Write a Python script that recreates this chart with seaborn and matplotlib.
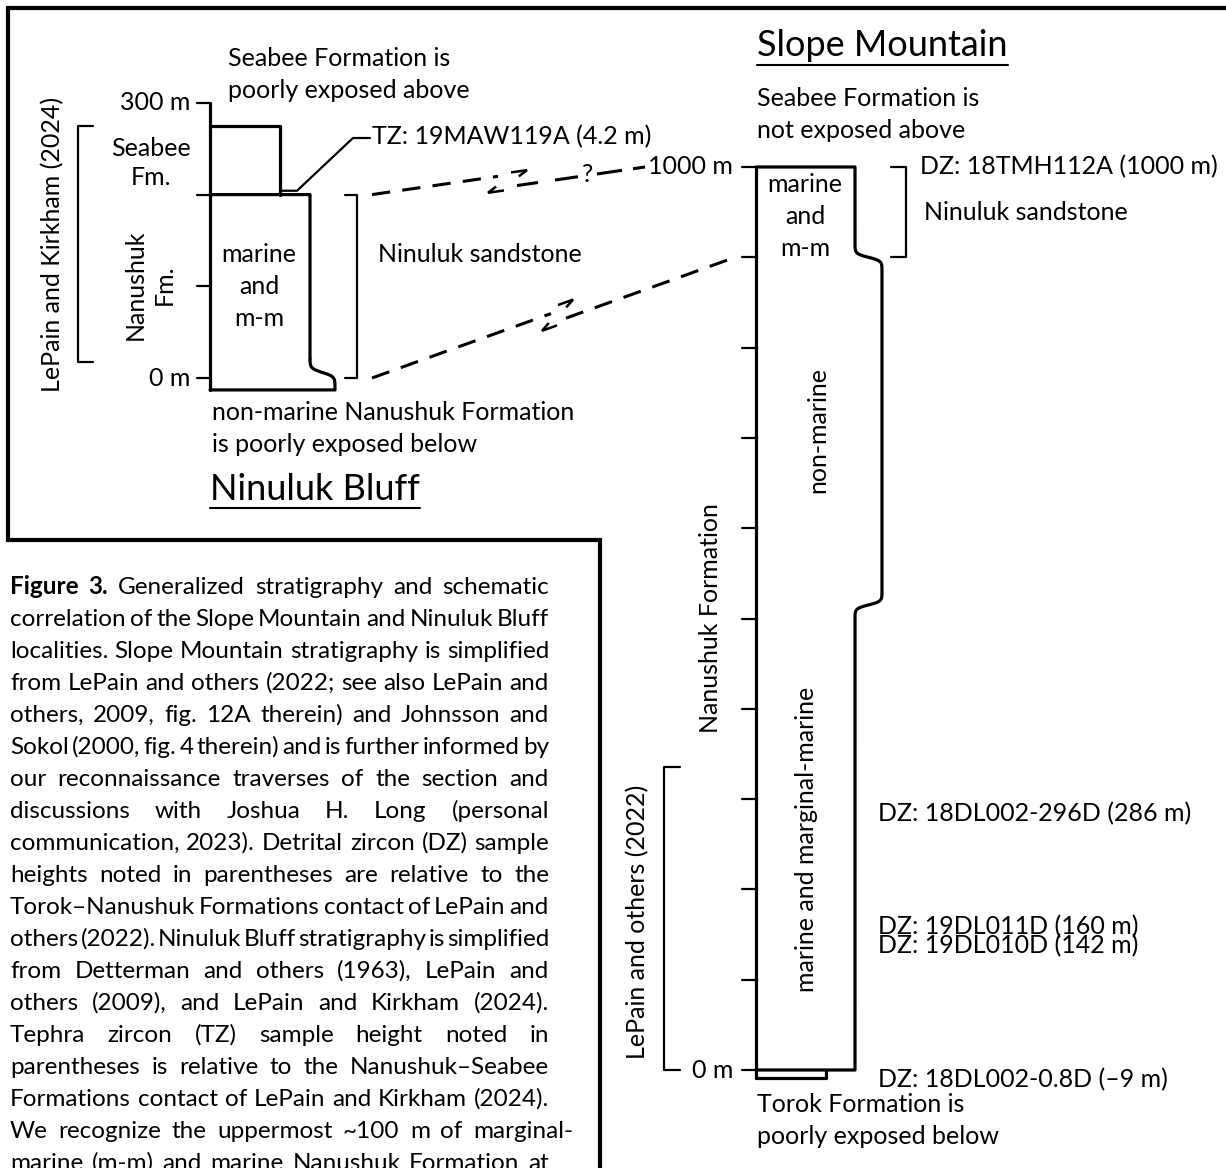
import numpy as np
import pandas as pd
import matplotlib
matplotlib.use("Agg")
import matplotlib.pyplot as plt
import seaborn as sns

# --- stratigraphic data (metres) ---
# Ninuluk Bluff
NB_TICKS = [0, 100, 200, 300]
NB_TICK_LABELS = {0: "0 m", 300: "300 m"}
NB_BASE = -13
NB_CONTACT = 200          # Nanushuk-Seabee contact
NB_SEABEE_TOP = 275
NB_FLARE = 6              # height of the coarse base
NB_TZ_NAME = "19MAW119A"
NB_TZ_HEIGHT = 4.2        # above the contact
NB_SANDSTONE = (0, 200)
NB_LEPAIN_2024 = (17, 275)

# Slope Mountain
SM_TICKS = list(range(0, 1001, 100))
SM_TICK_LABELS = {0: "0 m", 1000: "1000 m"}
SM_TOP = 1000
SM_TOROK_BASE = -9
SM_NONMARINE = (515, 900)
SM_SANDSTONE = (900, 1000)
SM_LEPAIN_2022 = (0, 335)
SM_DZ_TOP = ("18TMH112A", 1000)
SM_DZ_NAMES = ["18DL002-296D", "19DL011D", "19DL010D", "18DL002-0.8D"]
SM_DZ_HEIGHTS = [286, 160, 142, -9]

CAPTION = [
    "Figure 3. Generalized stratigraphy and schematic",
    "correlation of the Slope Mountain and Ninuluk Bluff",
    "localities. Slope Mountain stratigraphy is simplified",
    "from LePain and others (2022; see also LePain and",
    "others, 2009, fig. 12A therein) and Johnsson and",
    "Sokol (2000, fig. 4 therein) and is further informed by",
    "our reconnaissance traverses of the section and",
    "discussions with Joshua H. Long (personal",
    "communication, 2023). Detrital zircon (DZ) sample",
    "heights noted in parentheses are relative to the",
    "Torok\u2013Nanushuk Formations contact of LePain and",
    "others (2022). Ninuluk Bluff stratigraphy is simplified",
    "from Detterman and others (1963), LePain and",
    "others (2009), and LePain and Kirkham (2024).",
    "Tephra zircon (TZ) sample height noted in",
    "parentheses is relative to the Nanushuk\u2013Seabee",
    "Formations contact of LePain and Kirkham (2024).",
    "We recognize the uppermost ~100 m of marginal-",
    "marine (m-m) and marine Nanushuk Formation at",
]


def nb_y(m):
    return 378 - 0.917 * np.asarray(m, dtype=float)


def sm_y(m):
    return 1070 - 0.903 * np.asarray(m, dtype=float)


def s_step(yc, xa, xb, half=12, s=3.5, n=50):
    yy = np.linspace(yc - half, yc + half, n)
    xx = xa + (xb - xa) * (0.5 + 0.5 * np.tanh((yy - yc) / s))
    return list(xx), list(yy)


def path(ax, xs, ys, lw=2.3, **kw):
    df = pd.DataFrame({"x": xs, "y": ys})
    sns.lineplot(data=df, x="x", y="y", sort=False, estimator=None,
                 color="black", lw=lw, ax=ax, **kw)


def bracket(ax, x, y0, y1, tick):
    path(ax, [x + tick, x, x, x + tick], [y0, y0, y1, y1], lw=1.6)


def half_arrow(ax, tail, tip, side):
    (x0, y0), (x1, y1) = tail, tip
    d = np.array([x1 - x0, y1 - y0], float)
    d /= np.hypot(*d)
    p = np.array([-d[1], d[0]]) * side
    bx, by = np.array([x1, y1]) - d * 9 + p * 5
    ax.plot([x0, x1, bx], [y0, y1, by], color="black", lw=1.8,
            solid_capstyle="butt", solid_joinstyle="miter")


sns.set_theme(style="white")
plt.rcParams["font.family"] = ["Lato", "DejaVu Sans"]

W, H = 1226, 1168
fig = plt.figure(figsize=(W / 100, H / 100), dpi=100)
ax = fig.add_axes([0, 0, 1, 1])
ax.set_xlim(0, W)
ax.set_ylim(H, 0)
ax.set_axis_off()
renderer = fig.canvas.get_renderer()

FS = 18
TXT = dict(color="black", fontsize=FS)

# frame
ax.plot([W, 8, 8, 600, 600], [8, 8, 540, 540, H], color="black", lw=3,
        solid_joinstyle="miter")

# ---------------- Ninuluk Bluff ----------------
NB_X0, NB_SB_X1, NB_X1, NB_FX1 = 210, 280, 310, 335
path(ax, [NB_X0, NB_X0], [nb_y(300), nb_y(NB_BASE)])
for t in NB_TICKS:
    ax.plot([197, NB_X0], [nb_y(t)] * 2, color="black", lw=1.6)
for t, lab in NB_TICK_LABELS.items():
    ax.text(190, nb_y(t), lab, ha="right", va="center", **TXT)
path(ax, [NB_X0, NB_SB_X1, NB_SB_X1], [nb_y(NB_SEABEE_TOP)] * 2 + [nb_y(NB_CONTACT)])
fx, fy = s_step(float(nb_y(NB_FLARE)), NB_X1, NB_FX1, half=13, s=4)
path(ax, [NB_X0, NB_X1, NB_X1] + fx + [NB_FX1, NB_X0],
     [nb_y(NB_CONTACT)] * 2 + [fy[0]] + fy + [nb_y(NB_BASE)] * 2)

tz_y = float(nb_y(NB_CONTACT + NB_TZ_HEIGHT))
ax.plot([NB_SB_X1, 297, 353, 370], [tz_y, tz_y, 138, 138], color="black", lw=1.6)
ax.text(372, 137, f"TZ: {NB_TZ_NAME} ({NB_TZ_HEIGHT} m)", ha="left", va="center", **TXT)

bracket(ax, 357, nb_y(NB_SANDSTONE[1]), nb_y(NB_SANDSTONE[0]), -12)
ax.text(378, 255, "Ninuluk sandstone", ha="left", va="center", **TXT)
bracket(ax, 78, nb_y(NB_LEPAIN_2024[1]), nb_y(NB_LEPAIN_2024[0]), 15)
ax.text(53, float(nb_y(sum(NB_LEPAIN_2024) / 2)), "LePain and Kirkham (2024)",
        rotation=90, ha="center", va="center", **TXT)
ax.text(151, 163, "Seabee\nFm.", ha="center", va="center", linespacing=1.3, **TXT)
ax.text(150, 285, "Nanushuk\nFm.", rotation=90, ha="center", va="center",
        multialignment="center", linespacing=1.3, **TXT)
for i, w in enumerate(["marine", "and", "m-m"]):
    ax.text(259, 255 + 32 * i, w, ha="center", va="center", **TXT)
for i, w in enumerate(["Seabee Formation is", "poorly exposed above"]):
    ax.text(228, 58 + 32 * i, w, ha="left", va="center", **TXT)
for i, w in enumerate(["non-marine Nanushuk Formation", "is poorly exposed below"]):
    ax.text(212, 413 + 32 * i, w, ha="left", va="center", **TXT)


def title(x, y, s):
    t = ax.text(x, y, s, ha="left", va="center", color="black", fontsize=26)
    bb = t.get_window_extent(renderer)
    yb = H - bb.y0 + 2
    ax.plot([bb.x0, bb.x1], [yb, yb], color="black", lw=1.5)


title(210, 489, "Ninuluk Bluff")

# ---------------- Slope Mountain ----------------
SM_X0, SM_MX1, SM_NX1, SM_TX1 = 756, 855, 882, 826
path(ax, [SM_X0, SM_X0], [sm_y(SM_TOP), sm_y(SM_TOROK_BASE)])
for t in SM_TICKS:
    ax.plot([742, SM_X0], [sm_y(t)] * 2, color="black", lw=1.6)
for t, lab in SM_TICK_LABELS.items():
    ax.text(733, sm_y(t), lab, ha="right", va="center", **TXT)
ux, uy = s_step(float(sm_y(SM_NONMARINE[1])), SM_MX1, SM_NX1)
lx, ly = s_step(float(sm_y(SM_NONMARINE[0])), SM_NX1, SM_MX1)
path(ax, [SM_X0, SM_MX1] + ux + lx + [SM_MX1, SM_X0],
     [sm_y(SM_TOP)] * 2 + uy + ly + [sm_y(0)] * 2)
path(ax, [SM_X0, SM_TX1, SM_TX1], [sm_y(SM_TOROK_BASE)] * 2 + [sm_y(0)])

bracket(ax, 906, sm_y(SM_SANDSTONE[1]), sm_y(SM_SANDSTONE[0]), -15)
ax.text(924, 212, "Ninuluk sandstone", ha="left", va="center", **TXT)
ax.text(920, sm_y(SM_DZ_TOP[1]), f"DZ: {SM_DZ_TOP[0]} ({SM_DZ_TOP[1]} m)",
        ha="left", va="center", **TXT)
nudge = [0, -1, 2, 0]
for name, h, dn in zip(SM_DZ_NAMES, SM_DZ_HEIGHTS, nudge):
    hs = f"\u2013{abs(h)}" if h < 0 else f"{h}"
    ax.text(878, sm_y(h) + 2 + dn, f"DZ: {name} ({hs} m)", ha="left", va="center", **TXT)
bracket(ax, 664, sm_y(SM_LEPAIN_2022[1]), sm_y(SM_LEPAIN_2022[0]), 16)
ax.text(638, float(sm_y(SM_LEPAIN_2022[0]) + sm_y(SM_LEPAIN_2022[1])) / 2 + 3,
        "LePain and others (2022)", rotation=90, ha="center", va="center", **TXT)
ax.text(710, 618, "Nanushuk Formation", rotation=90, ha="center", va="center", **TXT)
ax.text(818, 430, "non-marine", rotation=90, ha="center", va="center", **TXT)
ax.text(806, 839, "marine and marginal-marine", rotation=90, ha="center", va="center", **TXT)
for i, w in enumerate(["marine", "and", "m-m"]):
    ax.text(805, 185 + 32 * i, w, ha="center", va="center", **TXT)
for i, w in enumerate(["Seabee Formation is", "not exposed above"]):
    ax.text(757, 98 + 32 * i, w, ha="left", va="center", **TXT)
for i, w in enumerate(["Torok Formation is", "poorly exposed below"]):
    ax.text(757, 1104 + 32 * i, w, ha="left", va="center", **TXT)
title(757, 46, "Slope Mountain")

# ---------------- correlation lines ----------------
DASH = dict(color="black", lw=2.2, dashes=(6, 4))


def corr(p0, p1, off, xb, gap=18):
    s = (p1[1] - p0[1] - off) / (p1[0] - p0[0])
    L = lambda x: p0[1] + s * (x - p0[0])
    ax.plot([p0[0], xb - gap / 2], [L(p0[0]), L(xb - gap / 2)], **DASH)
    return L, s


p0 = (372, float(nb_y(NB_CONTACT)))
p1 = (645, float(sm_y(SM_TOP)))
L, s = corr(p0, p1, 12, 507)
R = lambda x: L(x) + 12
for xa, xb in [(517, 538), (555, 578), (597, 622), (633, p1[0])]:
    ax.plot([xa, xb], [R(xa), R(xb)], color="black", lw=2.2, solid_capstyle="butt")
ax.text(588, R(588) - 1, "?", ha="center", va="center", **TXT)
half_arrow(ax, (511, L(511) - 2), (527, L(527) - 2), 1)
half_arrow(ax, (504, R(504) + 3), (488, R(488) + 3), 1)

q0 = (372, float(nb_y(0)))
q1 = (735, float(sm_y(SM_SANDSTONE[0])))
L2, s2 = corr(q0, q1, 10, 560)
R2 = lambda x: L2(x) + 10
ax.plot([566, q1[0]], [R2(566), R2(q1[0])], **DASH)
half_arrow(ax, (558, L2(558) - 6), (573, L2(573) - 6), 1)
half_arrow(ax, (557, R2(557) + 4), (542, R2(542) + 4), 1)

# ---------------- caption (justified) ----------------
CAP_FS = 17.5
CAP_X0, CAP_X1, CAP_Y0, CAP_DY = 10, 549, 594, 32
for i, line in enumerate(CAPTION):
    words = line.split(" ")
    x1 = 573 if line.endswith("-") else CAP_X1
    objs = []
    for j, w in enumerate(words):
        bold = i == 0 and j < 2
        objs.append(ax.text(0, CAP_Y0 + CAP_DY * i, w, ha="left", va="baseline",
                            color="black", fontsize=CAP_FS,
                            fontweight="bold" if bold else "normal"))
    widths = [o.get_window_extent(renderer).width for o in objs]
    gap = (x1 - CAP_X0 - sum(widths)) / max(len(words) - 1, 1)
    x = CAP_X0
    for o, w in zip(objs, widths):
        o.set_x(x)
        x += w + gap

fig.savefig("out.png", dpi=100, facecolor="white")
